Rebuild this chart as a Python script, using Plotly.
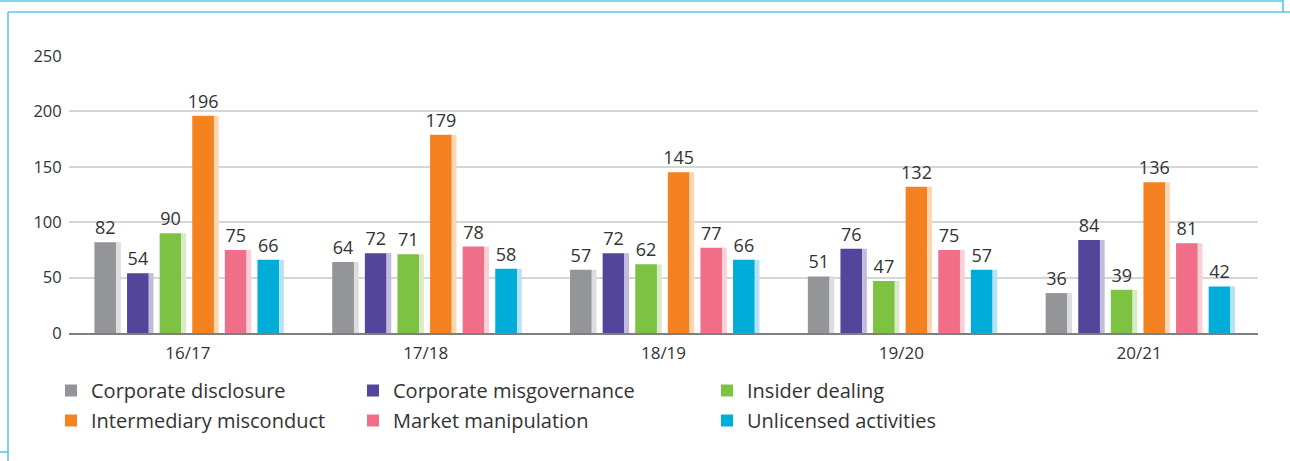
import plotly.graph_objects as go

years = ["16/17", "17/18", "18/19", "19/20", "20/21"]
series_names = ["Corporate disclosure", "Corporate misgovernance", "Insider dealing",
                "Intermediary misconduct", "Market manipulation", "Unlicensed activities"]
corporate_disclosure = [82, 64, 57, 51, 36]
corporate_misgovernance = [54, 72, 72, 76, 84]
insider_dealing = [90, 71, 62, 47, 39]
intermediary_misconduct = [196, 179, 145, 132, 136]
market_manipulation = [75, 78, 77, 75, 81]
unlicensed_activities = [66, 58, 66, 57, 42]
y_ticks = [0, 50, 100, 150, 200, 250]

values = [corporate_disclosure, corporate_misgovernance, insider_dealing,
          intermediary_misconduct, market_manipulation, unlicensed_activities]
main_colors = ["#939598", "#52459a", "#7dc242", "#f48221", "#f06e88", "#00acd8"]
shade_colors = ["#dcdddf", "#c2bbdd", "#d8ebc6", "#fdd6b2", "#fad0d7", "#b3e3f4"]
legend_ids = ["legend", "legend2", "legend3", "legend", "legend2", "legend3"]

W, H = 1290, 461
ML, MR, MT, MB = 69, 32, 56, 128
PW, PH = W - ML - MR, H - MT - MB

FONT = "Open Sans"
TXT = "#333333"

start = -0.393
pitch = 0.1371
bw = 0.0913
sw = 0.0198

fig = go.Figure()
for i, (name, vals) in enumerate(zip(series_names, values)):
    off = start + i * pitch
    fig.add_trace(go.Bar(
        x=years, y=vals, name=name,
        marker=dict(color=main_colors[i], line=dict(width=0)),
        offset=off, width=bw,
        text=[str(v) for v in vals], textposition="outside",
        constraintext="none",
        textfont=dict(family=FONT, size=18, color=TXT),
        cliponaxis=False,
        legend=legend_ids[i], legendgroup=name,
        hoverinfo="x+y+name",
    ))
    fig.add_trace(go.Bar(
        x=years, y=vals, name=name + " shade",
        marker=dict(color=shade_colors[i], line=dict(width=0)),
        offset=off + bw, width=sw,
        showlegend=False, hoverinfo="skip",
    ))


def px_x(px):
    return (px - ML) / PW


def px_y(py):
    return (H - MB - py) / PH


frame_color = "#5bc8e8"
frame_lines = [((0, 1), (1283, 1)), ((1283, 0), (1283, 12)), ((8, 12), (1290, 12)),
               ((8, 12), (8, 461)), ((0, 452), (8, 452))]
shapes = []
for (x0, y0), (x1, y1) in frame_lines:
    shapes.append(dict(type="line", xref="paper", yref="paper",
                       x0=px_x(x0), y0=px_y(y0), x1=px_x(x1), y1=px_y(y1),
                       line=dict(color=frame_color, width=1.6)))

legend_common = dict(orientation="v", traceorder="grouped", tracegroupgap=1,
                     font=dict(family=FONT, size=20, color=TXT),
                     bgcolor="rgba(0,0,0,0)", xanchor="left", yanchor="top",
                     itemclick=False, itemdoubleclick=False)

fig.update_layout(
    width=W, height=H,
    margin=dict(l=ML, r=MR, t=MT, b=MB, autoexpand=False),
    paper_bgcolor="white", plot_bgcolor="white",
    barmode="overlay",
    shapes=shapes,
    showlegend=True,
    legend=dict(x=px_x(51), y=px_y(371), **legend_common),
    legend2=dict(x=px_x(353), y=px_y(371), **legend_common),
    legend3=dict(x=px_x(707), y=px_y(371), **legend_common),
    font=dict(family=FONT, color=TXT),
)
fig.update_xaxes(
    type="category", showgrid=False, showline=True, linecolor="#7f7f7f", linewidth=1.5,
    ticks="outside", ticklen=4, tickcolor="rgba(0,0,0,0)",
    tickfont=dict(family=FONT, size=17, color=TXT),
)
fig.update_yaxes(
    range=[0, 250], tickvals=y_ticks, showgrid=True, gridcolor="#d6d6d6", gridwidth=1.5,
    zeroline=False, showline=False,
    ticks="outside", ticklen=3, tickcolor="rgba(0,0,0,0)",
    tickfont=dict(family=FONT, size=16.5, color=TXT),
)

fig.write_html("out.html", config={"displayModeBar": False},
               post_script="document.body.style.margin='0';")
